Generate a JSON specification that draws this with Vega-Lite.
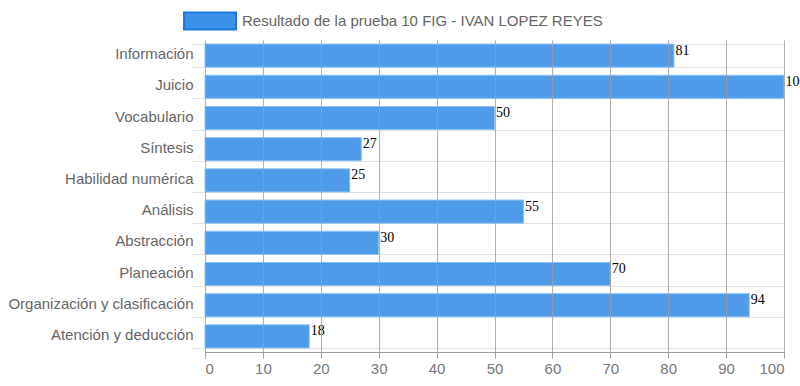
{
  "$schema": "https://vega.github.io/schema/vega-lite/v6.json",
  "autosize": "none",
  "width": 579,
  "height": 312,
  "padding": {"left": 205, "top": 40, "right": 16, "bottom": 34},
  "background": "white",
  "data": {"values": [
    {"area": "Información", "valor": 81, "serie": "Resultado de la prueba 10 FIG - IVAN LOPEZ REYES"},
    {"area": "Juicio", "valor": 100, "serie": "Resultado de la prueba 10 FIG - IVAN LOPEZ REYES"},
    {"area": "Vocabulario", "valor": 50, "serie": "Resultado de la prueba 10 FIG - IVAN LOPEZ REYES"},
    {"area": "Síntesis", "valor": 27, "serie": "Resultado de la prueba 10 FIG - IVAN LOPEZ REYES"},
    {"area": "Habilidad numérica", "valor": 25, "serie": "Resultado de la prueba 10 FIG - IVAN LOPEZ REYES"},
    {"area": "Análisis", "valor": 55, "serie": "Resultado de la prueba 10 FIG - IVAN LOPEZ REYES"},
    {"area": "Abstracción", "valor": 30, "serie": "Resultado de la prueba 10 FIG - IVAN LOPEZ REYES"},
    {"area": "Planeación", "valor": 70, "serie": "Resultado de la prueba 10 FIG - IVAN LOPEZ REYES"},
    {"area": "Organización y clasificación", "valor": 94, "serie": "Resultado de la prueba 10 FIG - IVAN LOPEZ REYES"},
    {"area": "Atención y deducción", "valor": 18, "serie": "Resultado de la prueba 10 FIG - IVAN LOPEZ REYES"}
  ]},
  "config": {
    "view": {"stroke": null},
    "font": "Liberation Sans"
  },
  "encoding": {
    "y": {
      "field": "area", "type": "nominal", "sort": null, "title": null,
      "scale": {"paddingInner": 0.26, "paddingOuter": 0.13},
      "axis": {
        "grid": true, "gridColor": "#e3e3e3", "tickBand": "extent",
        "tickColor": "#e3e3e3", "tickSize": 13, "domain": false,
        "labelFont": "Liberation Sans", "labelFontSize": 15, "labelColor": "#666666",
        "labelPadding": -1, "labelLimit": 260, "labelOffset": -2, "zindex": 0
      }
    },
    "x": {
      "field": "valor", "type": "quantitative", "title": null,
      "scale": {"domain": [0, 100], "nice": false},
      "axis": {
        "values": [0, 10, 20, 30, 40, 50, 60, 70, 80, 90, 100],
        "grid": true, "gridColor": "#9e9e9e", "gridOpacity": 0.8,
        "tickColor": "#9e9e9e", "tickSize": 6,
        "domainColor": "#9e9e9e",
        "labelFont": "Liberation Sans", "labelFontSize": 15, "labelColor": "#777777",
        "labelPadding": 3, "zindex": 1
      }
    }
  },
  "layer": [
    {
      "mark": {"type": "bar", "fillOpacity": 0.9, "stroke": "#8cc0f2", "strokeWidth": 1},
      "encoding": {
        "color": {
          "field": "serie", "type": "nominal", "title": null,
          "scale": {"range": ["#3b90e8"]},
          "legend": {
            "orient": "none", "legendX": -6, "legendY": -30,
            "direction": "horizontal", "padding": 0,
            "symbolType": "M-2.6,-0.85H2.6V0.85H-2.6Z", "symbolSize": 400,
            "symbolStrokeColor": "#1a78e0", "symbolStrokeWidth": 2, "symbolOpacity": 1,
            "labelFont": "Liberation Sans", "labelFontSize": 15, "labelColor": "#666666",
            "labelLimit": 600, "labelOffset": 21
          }
        }
      }
    },
    {
      "mark": {"type": "text", "align": "left", "baseline": "middle", "dx": 1.5, "dy": -5, "font": "Liberation Serif", "fontSize": 14, "color": "#000000"},
      "encoding": {"text": {"field": "valor", "type": "quantitative"}}
    }
  ]
}
